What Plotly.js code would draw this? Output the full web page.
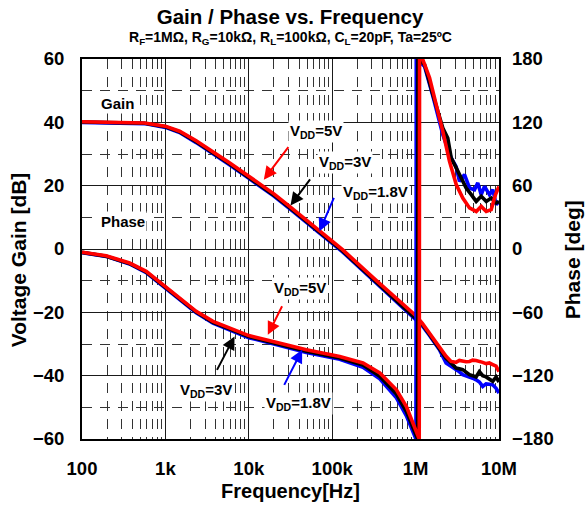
<!DOCTYPE html>
<html>
<head>
<meta charset="utf-8">
<script src="https://cdn.plot.ly/plotly-3.0.1.min.js"></script>
<style>html,body{margin:0;padding:0;background:#fff;}#chart{width:586px;height:512px;}</style>
</head>
<body>
<div id="chart"></div>
<script>
// ---------- data ----------
const xTickVals = [100, 1000, 10000, 100000, 1000000, 10000000];
const xTickText = ['100', '1k', '10k', '100k', '1M', '10M'];
const gainTicks = [-60, -40, -20, 0, 20, 40, 60];
const phaseTicks = [-180, -120, -60, 0, 60, 120, 180];

// Voltage gain [dB]
const fGain = [100, 316, 562, 1000, 1480, 2340, 3700, 5860, 10000, 15000, 20000, 31600, 46800, 70500, 133000, 339000, 885000, 1000000,
  1200000, 1460000, 1930000, 2320000, 2660000, 3050000, 3350000, 3670000, 4030000, 4420000, 4840000, 5310000,
  5820000, 6380000, 7000000, 7670000, 8410000, 9230000, 10000000];
const gain5V = [40.2, 40.1, 39.8, 38.8, 37.2, 34.2, 30.8, 27.2, 23.0, 19.8, 17.4, 13.2, 9.6, 5.6, -0.2, -10.0, -20.0, -21.0,
  -23.4, -26.5, -31.3, -33.9, -35.5, -35.8, -35.2, -35.4, -35.6, -35.5, -35.1, -35.2,
  -35.4, -35.8, -36.2, -36.0, -36.5, -37.0, -38.7];
const gain3V = [40.1, 40.0, 39.7, 38.6, 37.0, 33.9, 30.5, 26.9, 22.6, 19.4, 17.0, 12.8, 9.2, 5.2, -0.6, -10.5, -20.6, -21.6,
  -23.8, -26.9, -31.6, -34.5, -36.0, -37.6, -37.8, -38.1, -38.9, -39.7, -40.0, -40.4,
  -38.7, -40.0, -40.4, -41.2, -41.8, -40.4, -42.0];
const gain18V = [40.0, 39.9, 39.6, 38.4, 36.8, 33.6, 30.2, 26.6, 22.3, 19.1, 16.7, 12.5, 8.9, 4.9, -0.9, -10.8, -21.0, -22.2,
  -24.2, -27.2, -31.8, -36.0, -37.0, -38.0, -38.8, -39.7, -40.0, -40.4, -40.8, -41.3,
  -42.0, -43.4, -42.6, -42.7, -42.9, -44.0, -45.5];

// Phase [deg]
const fPhase5V = [100, 195, 372, 589, 933, 1480, 2340, 3720, 5890, 7760, 10000, 19500, 49000, 123000, 234000,
  372000, 589000, 776000, 933000, 1070000, 1105000, 1115000, 1220000, 1470000, 1770000, 2120000, 2550000,
  3070000, 3680000, 4430000, 5330000, 6120000, 7030000, 8060000, 9080000, 10000000];
const phase5V = [-3.0, -6.4, -13.3, -21.2, -33.8, -46.5, -59.1, -68.6, -74.9, -79.0, -82.0, -87.6, -95.5, -101.8, -108.0,
  -117.5, -133.4, -149.2, -165.0, -177.6, -180, 180, 179.4, 162.1, 136.8, 111.5, 83.0,
  61.0, 48.3, 38.9, 35.6, 40.4, 35.6, 37.3, 51.5, 59.3];
const fPhase3V = [100, 195, 372, 589, 933, 1480, 2340, 3720, 5890, 7760, 10000, 19500, 49000, 123000, 234000,
  372000, 589000, 776000, 933000, 1040000, 1058000, 1066000, 1280000, 1610000, 2120000, 2430000, 2670000,
  3070000, 3520000, 4040000, 4650000, 5330000, 6120000, 7030000, 8060000, 9250000, 10000000];
const phase3V = [-3.2, -6.8, -13.8, -21.8, -34.5, -47.3, -59.8, -69.4, -75.8, -79.8, -83.0, -88.8, -96.8, -103.2, -110.0,
  -120.5, -137.5, -154.0, -170.0, -178.5, -180, 180, 174.7, 146.3, 114.7, 105.2, 86.3,
  76.8, 67.3, 57.8, 51.5, 45.1, 49.9, 45.1, 48.3, 43.6, 45.0];
const fPhase18V = [100, 195, 372, 589, 933, 1480, 2340, 3720, 5890, 7760, 10000, 19500, 49000, 123000, 234000,
  372000, 589000, 776000, 900000, 975000, 1010000, 1018000, 1280000, 1610000, 2120000, 2670000, 3060000,
  3360000, 3860000, 4430000, 5080000, 5570000, 6120000, 6700000, 7690000, 8430000, 9250000, 10000000];
const phase18V = [-3.4, -7.0, -14.2, -22.3, -35.2, -48.0, -60.5, -70.2, -76.6, -80.6, -84.0, -89.8, -98.0, -104.5, -112.0,
  -123.0, -141.0, -158.0, -171.0, -178.5, -180, 180, 173.1, 145.0, 108.3, 86.3, 78.0,
  64.1, 70.4, 57.8, 56.2, 62.6, 51.5, 59.3, 51.5, 56.2, 42.0, 45.0];

// ---------- chart ----------
const FONT = 'Arial, "Liberation Sans", sans-serif';
const LW = 3.6;
const traces = [
  {x: fGain, y: gain18V, mode: 'lines', line: {color: '#0000ff', width: LW}, yaxis: 'y'},
  {x: fPhase18V, y: phase18V, mode: 'lines', line: {color: '#0000ff', width: LW}, yaxis: 'y2'},
  {x: fGain, y: gain3V, mode: 'lines', line: {color: '#000000', width: LW}, yaxis: 'y'},
  {x: fPhase3V, y: phase3V, mode: 'lines', line: {color: '#000000', width: LW}, yaxis: 'y2'},
  {x: fGain, y: gain5V, mode: 'lines', line: {color: '#ff0000', width: LW}, yaxis: 'y'},
  {x: fPhase5V, y: phase5V, mode: 'lines', line: {color: '#ff0000', width: LW}, yaxis: 'y2'}
];

const tickFont = {family: FONT, size: 18.5, color: '#000', weight: 'bold'};
const lblFont = {family: FONT, size: 15, color: '#000', weight: 'bold'};
const axTitleFont = {family: FONT, size: 21, color: '#000', weight: 'bold'};

function textAnn(x, y, text) {
  return {x: x, y: y, xref: 'x', yref: 'y', text: text, showarrow: false, font: lblFont,
    bgcolor: '#ffffff', borderpad: 1, xanchor: 'center', yanchor: 'middle'};
}
function arrowAnn(x, y, ax, ay, color) {
  return {x: x, y: y, xref: 'x', yref: 'y', ax: ax, ay: ay, axref: 'pixel', ayref: 'pixel', text: '',
    showarrow: true, arrowcolor: color, arrowwidth: 2, arrowhead: 2, arrowsize: 1.3, standoff: 0, startstandoff: 0};
}

const annotations = [
  {xref: 'paper', yref: 'paper', x: 0.5, y: 1.056, xanchor: 'center', yanchor: 'middle', showarrow: false,
    text: 'R<sub>F</sub>=1MΩ, R<sub>G</sub>=10kΩ, R<sub>L</sub>=100kΩ, C<sub>L</sub>=20pF, Ta=25ºC',
    font: {family: FONT, size: 14, color: '#000', weight: 'bold'}},
  {xref: 'paper', yref: 'paper', x: -0.1535, y: 0.473, xanchor: 'center', yanchor: 'middle', showarrow: false,
    textangle: -90, text: 'Voltage Gain [dB]', font: axTitleFont},
  {xref: 'paper', yref: 'paper', x: 1.175, y: 0.473, xanchor: 'center', yanchor: 'middle', showarrow: false,
    textangle: -90, text: 'Phase [deg]', font: axTitleFont},
  textAnn(2.429, 45.9, 'Gain'),
  textAnn(2.486, 8.8, 'Phase'),
  textAnn(4.808, 37.1, 'V<sub>DD</sub>=5V'),
  textAnn(5.159, 27.3, 'V<sub>DD</sub>=3V'),
  textAnn(5.519, 17.8, 'V<sub>DD</sub>=1.8V'),
  textAnn(4.614, -12.5, 'V<sub>DD</sub>=5V'),
  textAnn(3.487, -44.6, 'V<sub>DD</sub>=3V'),
  textAnn(4.596, -48.9, 'V<sub>DD</sub>=1.8V'),
  arrowAnn(4.180, 21.9, 25.7, -34, '#ff0000'),
  arrowAnn(4.500, 13.7, 20.7, -27.7, '#000000'),
  arrowAnn(4.848, 5.6, 15, -35, '#0000ff'),
  arrowAnn(4.228, -27.1, 15, -30, '#ff0000'),
  arrowAnn(3.829, -27.6, -18.3, 35, '#000000'),
  arrowAnn(4.640, -31.8, -18.7, 36.7, '#0000ff')
];

const layout = {
  width: 586, height: 512,
  margin: {l: 82, r: 87, t: 59, b: 73, pad: 0},
  paper_bgcolor: '#ffffff', plot_bgcolor: '#ffffff',
  showlegend: false,
  title: {text: 'Gain / Phase vs. Frequency', font: {family: FONT, size: 20.5, color: '#000', weight: 'bold'},
    x: 0.495, xanchor: 'center', y: 1 - 17 / 512, yref: 'container', yanchor: 'middle'},
  xaxis: {
    type: 'log', range: [2, 7], tickvals: xTickVals, ticktext: xTickText, tickfont: tickFont,
    ticks: '', ticklabelstandoff: 12, showline: true, mirror: true, linecolor: '#000', linewidth: 2,
    showgrid: true, gridcolor: '#1a1a1a', gridwidth: 1, zeroline: false,
    minor: {dtick: 'D1', showgrid: true, gridcolor: '#333', gridwidth: 1, griddash: '10px,8px', ticks: ''},
    title: {text: 'Frequency[Hz]', font: {family: FONT, size: 20, color: '#000', weight: 'bold'}, standoff: 6}
  },
  yaxis: {
    range: [-60, 60], tickvals: gainTicks, tickfont: tickFont, ticks: '', ticklabelstandoff: 12,
    showline: true, mirror: true, linecolor: '#000', linewidth: 2,
    showgrid: true, gridcolor: '#1a1a1a', gridwidth: 1, zeroline: false,
    minor: {dtick: 10, showgrid: true, gridcolor: '#333', gridwidth: 1, griddash: '10px,8px', ticks: ''}
  },
  yaxis2: {
    range: [-180, 180], tickvals: phaseTicks, tickfont: tickFont, ticks: '', ticklabelstandoff: 12,
    overlaying: 'y', side: 'right', showgrid: false, zeroline: false, showline: false
  },
  annotations: annotations
};

Plotly.newPlot('chart', traces, layout, {staticPlot: true, displayModeBar: false});
</script>
</body>
</html>
